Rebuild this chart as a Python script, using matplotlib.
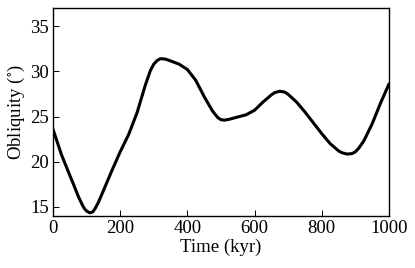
import matplotlib
matplotlib.use("Agg")
import matplotlib.pyplot as plt

# values
time_kyr = [0, 25, 50, 60, 75, 85, 92, 100, 110, 118, 125, 135, 150, 175,
            200, 225, 250, 275, 290, 300, 310, 320, 335, 350, 375, 400, 425,
            450, 475, 490, 500, 510, 525, 550, 575, 600, 625, 650, 660, 675,
            690, 700, 725, 750, 775, 800, 825, 850, 860, 875, 890, 900, 910,
            925, 950, 975, 1000]
obliquity = [23.6, 20.8, 18.5, 17.6, 16.2, 15.4, 14.9, 14.55, 14.35, 14.45,
             14.8, 15.5, 16.8, 19.0, 21.1, 23.0, 25.4, 28.5, 30.1, 30.8,
             31.2, 31.4, 31.35, 31.15, 30.8, 30.2, 29.0, 27.2, 25.6, 24.9,
             24.65, 24.6, 24.7, 24.95, 25.2, 25.7, 26.6, 27.4, 27.65, 27.8,
             27.7, 27.45, 26.6, 25.5, 24.3, 23.1, 22.0, 21.2, 21.0, 20.85,
             20.9, 21.1, 21.5, 22.3, 24.2, 26.5, 28.6]

x_ticks = [0, 200, 400, 600, 800, 1000]
y_ticks = [15, 20, 25, 30, 35]

plt.rcParams['font.family'] = ['Liberation Serif', 'DejaVu Serif']
plt.rcParams['mathtext.fontset'] = 'stix'

fig = plt.figure(figsize=(4.15, 2.68), dpi=100)
ax = fig.add_axes([0.1277, 0.194, 0.8096, 0.776])

ax.plot(time_kyr, obliquity, color='black', lw=2.2,
        solid_capstyle='round', solid_joinstyle='round')

ax.set_xlim(0, 1000)
ax.set_ylim(14, 37)
ax.set_xticks(x_ticks)
ax.set_yticks(y_ticks)
ax.tick_params(direction='in', length=4, width=0.7, labelsize=13.5, pad=3,
               top=False, right=False)
for s in ax.spines.values():
    s.set_linewidth(1.0)

ax.set_xlabel('Time (kyr)', fontsize=13.5, labelpad=1)
ax.set_ylabel(r'Obliquity ($^{\circ}$)', fontsize=13.5, labelpad=2)

fig.savefig('out.png', dpi=100)
